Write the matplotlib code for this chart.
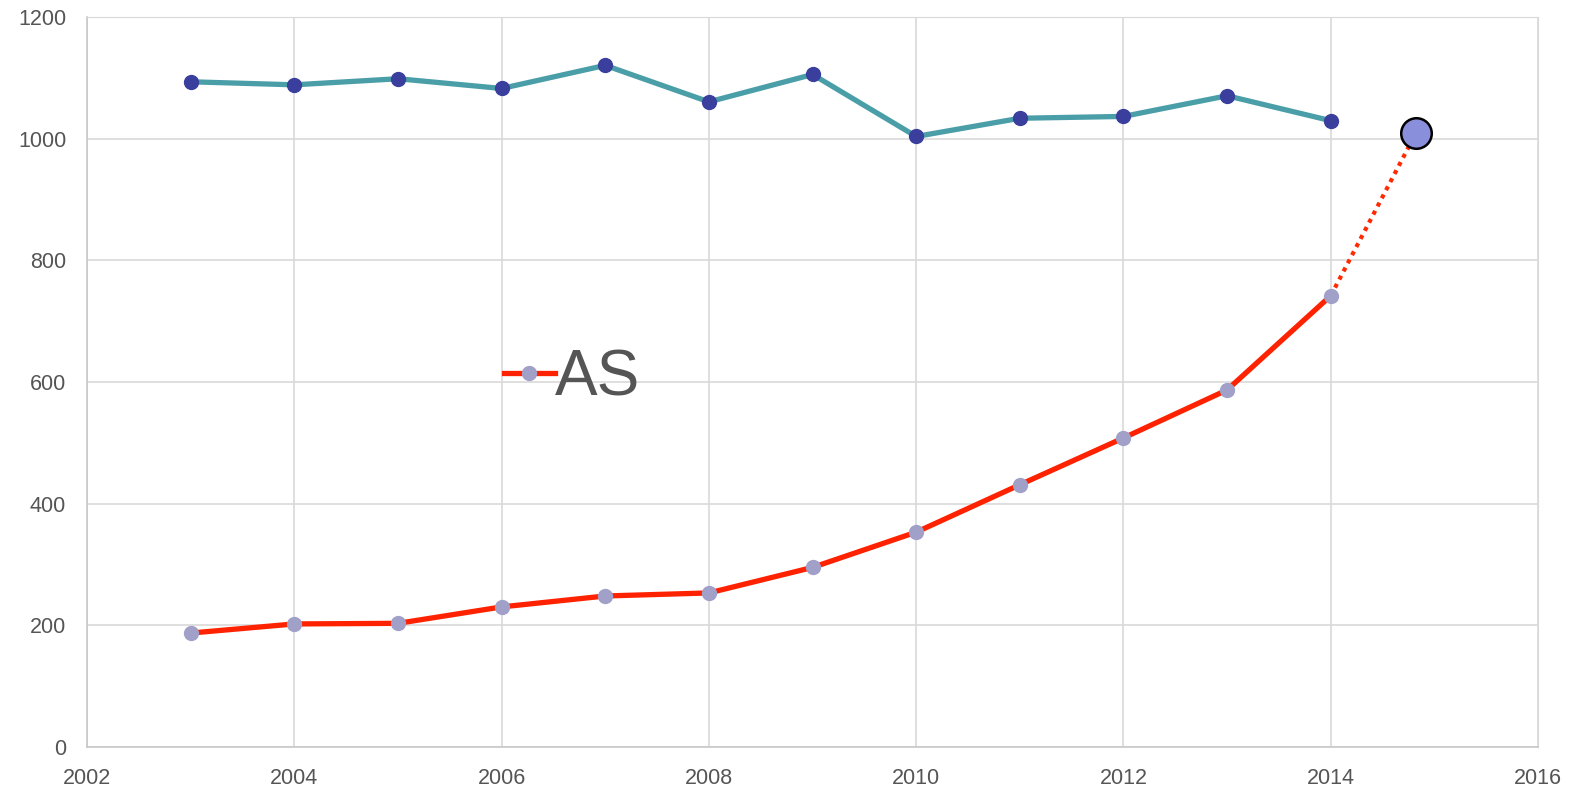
import matplotlib
matplotlib.use("Agg")
import matplotlib.pyplot as plt

years = [2003, 2004, 2005, 2006, 2007, 2008, 2009, 2010, 2011, 2012, 2013, 2014]
top_series = [1094, 1089, 1099, 1083, 1121, 1061, 1106, 1004, 1034, 1037, 1071, 1030]
as_series = [187, 202, 203, 230, 248, 253, 295, 353, 431, 508, 587, 742]
proj_x = [2014, 2014.82]
proj_y = [742, 1009]

x_ticks = [2002, 2004, 2006, 2008, 2010, 2012, 2014, 2016]
y_ticks = [0, 200, 400, 600, 800, 1000, 1200]

plt.rcParams["font.family"] = ["Liberation Sans", "DejaVu Sans"]

fig = plt.figure(figsize=(15.83, 7.89), dpi=100)
ax = fig.add_axes([0.055, 0.0536, 0.9166, 0.9244])

ax.plot(proj_x, proj_y, color="#ff2a00", lw=3, ls=(0, (1, 1.2)), zorder=2)
ax.plot(years, top_series, color="#4a9ea8", lw=3.8, marker="o", ms=10,
        mfc="#3a3f9e", mec="#3a3f9e", zorder=3, label="_nolegend_")
ax.plot(years, as_series, color="#ff2200", lw=3.8, marker="o", ms=10,
        mfc="#a0a0c8", mec="#a0a0c8", zorder=3, label="AS")
ax.plot([proj_x[-1]], [proj_y[-1]], marker="o", ms=22, mfc="#8a8fdc",
        mec="black", mew=1.8, ls="none", zorder=4)

ax.set_xlim(2002, 2016)
ax.set_ylim(0, 1200)
ax.set_xticks(x_ticks)
ax.set_yticks(y_ticks)
ax.grid(True, color="#d9d9d9", lw=1.2)
ax.set_axisbelow(True)
for s in ["top", "right"]:
    ax.spines[s].set_color("#d9d9d9")
for s in ["left", "bottom"]:
    ax.spines[s].set_color("#c8c8c8")
    ax.spines[s].set_linewidth(1.2)
ax.tick_params(length=0, labelsize=15.5, colors="#555555")
ax.tick_params(axis="x", pad=15)
ax.tick_params(axis="y", pad=15)

ax.legend(loc="center left", bbox_to_anchor=(0.298, 0.52),
          bbox_transform=fig.transFigure, frameon=False, fontsize=46,
          handlelength=0.8, handletextpad=0.0, borderpad=0, labelcolor="#555555")

fig.savefig("out.png", dpi=100)
